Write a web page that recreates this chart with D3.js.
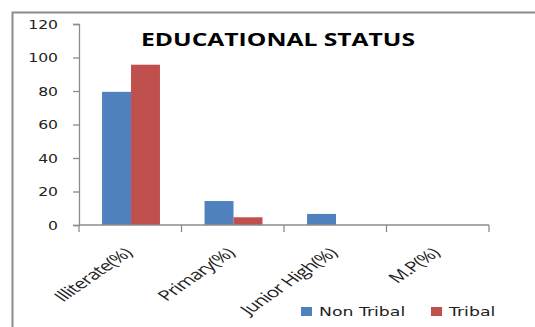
<!DOCTYPE html>
<html>
<head>
<meta charset="utf-8">
<script src="https://cdn.jsdelivr.net/npm/d3@7"></script>
<style>
  html, body { margin: 0; padding: 0; background: #fff; }
  svg { display: block; }
</style>
</head>
<body>
<svg id="chart" width="535" height="327"></svg>
<script>
// Educational status, share of population by level (%)
const categories = ["Illiterate(%)", "Primary(%)", "Junior High(%)", "M.P(%)"];
const seriesNames = ["Non Tribal", "Tribal"];
const nonTribal = [79.5, 14.3, 6.6, 0];
const tribal = [95.7, 4.6, 0, 0];
const yTicks = [0, 20, 40, 60, 80, 100, 120];
const colors = ["#4F81BD", "#C0504D"];

const svg = d3.select("#chart");
const W = 535, H = 327;
const axisGray = "#8c8c8c";

// Outer frame of the chart object (runs past the right and bottom edge)
svg.append("rect")
  .attr("x", 12.5).attr("y", 12.5)
  .attr("width", W + 10).attr("height", H + 10)
  .attr("fill", "#fff")
  .attr("stroke", axisGray)
  .attr("stroke-width", 2);

// Descender of the heading text above the frame
svg.append("text")
  .attr("x", 241).attr("y", -3)
  .attr("font-family", "DejaVu Sans, sans-serif")
  .attr("font-size", 16)
  .attr("fill", "#1a1aa0")
  .text("p");

const plot = { left: 79, right: 489, top: 24, bottom: 225 };

const x0 = d3.scaleBand()
  .domain(categories)
  .range([plot.left, plot.right]);

// Two bars per group, centred in the category band
const x1 = d3.scaleBand()
  .domain(seriesNames)
  .range([x0.bandwidth() * 0.225, x0.bandwidth() * 0.79]);

const y = d3.scaleLinear().domain([0, 120]).range([plot.bottom, plot.top]);

const rows = categories.map((c, i) => ({ cat: c, values: [nonTribal[i], tribal[i]] }));

// Bars
const groups = svg.append("g").selectAll("g")
  .data(rows).join("g")
  .attr("transform", d => `translate(${x0(d.cat)},0)`);

groups.selectAll("rect")
  .data(d => d.values.map((v, k) => ({ name: seriesNames[k], v, k })))
  .join("rect")
  .attr("x", d => x1(d.name))
  .attr("width", x1.bandwidth())
  .attr("y", d => y(d.v))
  .attr("height", d => y(0) - y(d.v))
  .attr("fill", d => colors[d.k]);

// Y axis
const yAxis = d3.axisLeft(y).tickValues(yTicks).tickSize(6).tickPadding(0).tickFormat("");
const gy = svg.append("g")
  .attr("transform", `translate(${plot.left},0)`)
  .call(yAxis);
gy.select(".domain").attr("stroke", axisGray).attr("stroke-width", 1.3);
gy.selectAll(".tick line").attr("stroke", axisGray).attr("stroke-width", 1.3);

// Y tick labels, drawn slightly wide
svg.append("g").selectAll("text")
  .data(yTicks).join("text")
  .attr("transform", d => `translate(${plot.left - 21},${y(d) + 4.5}) scale(1.25,1)`)
  .attr("text-anchor", "end")
  .attr("font-family", "DejaVu Sans, Verdana, sans-serif")
  .attr("font-size", 12.5)
  .attr("fill", "#222")
  .text(d => d);

// X axis with ticks at band boundaries
const gx = svg.append("g")
  .attr("transform", `translate(0,${plot.bottom})`);
gx.append("line")
  .attr("x1", plot.left).attr("x2", plot.right)
  .attr("y1", 0).attr("y2", 0)
  .attr("stroke", axisGray).attr("stroke-width", 1.3);

const bounds = categories.map(c => x0(c)).concat([x0(categories[categories.length - 1]) + x0.bandwidth()]);
gx.selectAll("line.sep")
  .data(bounds).join("line")
  .attr("class", "sep")
  .attr("x1", d => d).attr("x2", d => d)
  .attr("y1", 0).attr("y2", 7)
  .attr("stroke", axisGray).attr("stroke-width", 1.3);

// Rotated category labels
gx.selectAll("text.cat")
  .data(categories).join("text")
  .attr("class", "cat")
  .attr("transform", c => `translate(${x0(c) + x0.bandwidth() / 2 + 3},${29}) scale(1.45,1) rotate(-45)`)
  .attr("text-anchor", "end")
  .attr("font-family", "Open Sans, sans-serif")
  .attr("font-size", 14.3)
  .attr("letter-spacing", -0.5)
  .attr("fill", "#222")
  .text(c => c);

// Title
svg.append("text")
  .attr("transform", "translate(278,46) scale(1.45,1)")
  .attr("text-anchor", "middle")
  .attr("font-family", "Open Sans, sans-serif")
  .attr("font-weight", "bold")
  .attr("font-size", 17)
  .attr("fill", "#000")
  .text("EDUCATIONAL STATUS");

// Legend
const legend = svg.append("g");
const legendX = [301, 431];
seriesNames.forEach((n, k) => {
  legend.append("rect")
    .attr("x", legendX[k]).attr("y", 307)
    .attr("width", 11).attr("height", 9)
    .attr("fill", colors[k]);
  legend.append("text")
    .attr("transform", `translate(${legendX[k] + 18},316) scale(1.33,1)`)
    .attr("font-family", "DejaVu Sans, Verdana, sans-serif")
    .attr("font-size", 13)
    .attr("fill", "#222")
    .text(n);
});
</script>
</body>
</html>
